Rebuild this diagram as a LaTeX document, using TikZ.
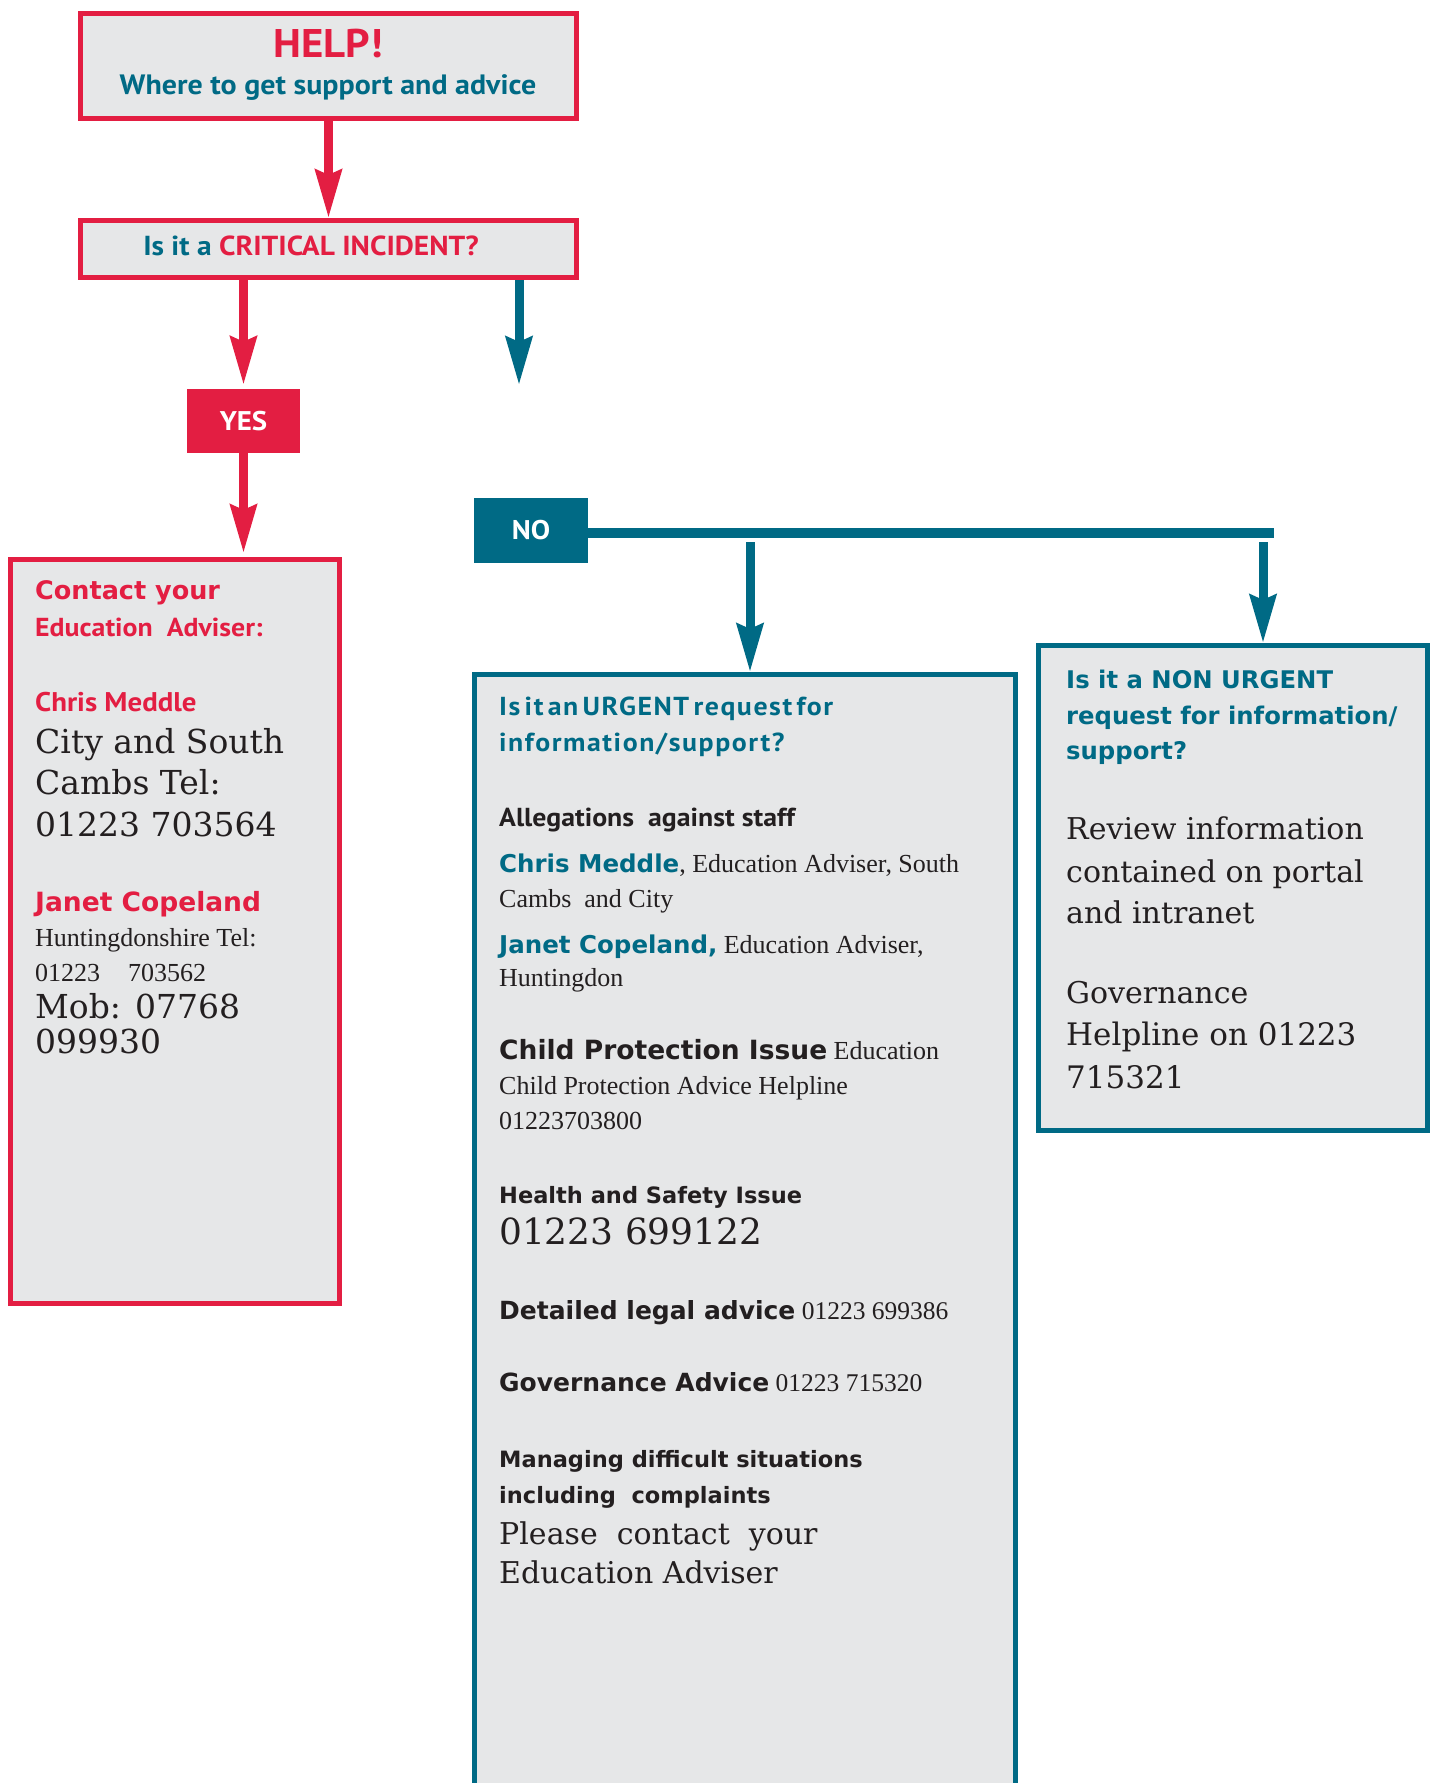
\documentclass[tikz,border=0pt]{standalone}
\usepackage{fontspec}
\setmainfont{Liberation Serif}
\newfontfamily\ptsans{PT Sans}[FakeStretch=1.07]
\newfontfamily\ptspaced{PT Sans}[FakeStretch=1.07, LetterSpace=6]
\newfontfamily\verd{DejaVu Sans}
\newfontfamily\wideserif{DejaVu Serif}
\usetikzlibrary{arrows.meta}
\definecolor{helpred}{RGB}{227,30,66}
\definecolor{helpteal}{RGB}{0,106,133}
\definecolor{boxgrey}{RGB}{230,231,232}
\definecolor{inkgrey}{RGB}{35,31,32}
\newcommand{\setsize}[1]{\fontsize{#1pt}{#1pt}\selectfont}
\begin{document}
\begin{tikzpicture}[x=1pt, y=-1pt,
% common options for the boxes:
box/.style = {rectangle, fill=boxgrey, line width=5pt, inner sep=0},
% common options for the yes/no tags:
tag/.style = {rectangle, inner sep=0, text=white, font=\ptsans\bfseries\setsize{27}},
% common options for the text lines:
line/.style = {anchor=base west, inner sep=0, text=inkgrey},
vbold/.style = {font=\verd\bfseries\setsize{#1}},
cbold/.style = {font=\ptsans\bfseries\setsize{#1}},
wserif/.style = {font=\wideserif\setsize{#1}},
tserif/.style = {font=\rmfamily\setsize{#1}},
% common options for the connectors:
redarrow/.style = {draw=helpred, line width=9pt, -{Stealth[length=48pt, width=26pt, inset=5pt]}},
tealarrow/.style = {draw=helpteal, line width=9pt, -{Stealth[length=48pt, width=26pt, inset=5pt]}}]
\useasboundingbox (0,0) rectangle (1435,1783);
\clip (0,0) rectangle (1435,1783);
% boxes
\node[box, draw=helpred, minimum width=496pt, minimum height=105pt] (help) at (328.5,66) {};
\node[box, draw=helpred, minimum width=496pt, minimum height=57pt] (crit) at (328.5,249) {};
\node[tag, fill=helpred, minimum width=113pt, minimum height=64pt] (yes) at (243.5,421) {YES};
\node[tag, fill=helpteal, minimum width=114pt, minimum height=65pt] (no) at (531,530.5) {NO};
\node[box, draw=helpred, minimum width=329pt, minimum height=744pt] (contact) at (175,931.5) {};
\node[box, draw=helpteal, minimum width=541pt, minimum height=1155pt] (urgent) at (745,1252) {};
\node[box, draw=helpteal, minimum width=389pt, minimum height=485pt] (nonurgent) at (1233,888) {};
% titles
\node[line, cbold=40, text=helpred, anchor=base] (H1) at (328,57) {HELP!};
\node[line, cbold=28, text=helpteal, anchor=base] (H2) at (328,94) {Where to get support and advice};
\node[line, cbold=27.5, text=helpteal, anchor=base] (Q1) at (311,255) {Is it a \textcolor{helpred}{CRITICAL INCIDENT?}};
% critical incident: yes
\node[line, vbold=25.5, text=helpred] (C1) at (35,599) {Contact your};
\node[line, cbold=26, text=helpred] (C2) at (35,636) {Education\ \ Adviser:};
\node[line, cbold=27, text=helpred] (C3) at (35,711) {Chris Meddle};
\node[line, wserif=33] (C4) at (35,753) {City and South};
\node[line, wserif=33] (C5) at (35,794) {Cambs Tel:};
\node[line, wserif=33] (C6) at (35,836) {01223 703564};
\node[line, vbold=26.5, text=helpred] (C7) at (35,911) {Janet Copeland};
\node[line, tserif=26] (C8) at (35,946) {Huntingdonshire Tel:};
\node[line, tserif=26] (C9) at (35,981) {01223\hspace{28pt}703562};
\node[line, wserif=33] (C10) at (35,1018) {Mob: 07768};
\node[line, wserif=33] (C11) at (35,1053) {099930};
% urgent
\node[line, font=\ptspaced\bfseries\setsize{26}, text=helpteal] (U1) at (499,715) {Is\,it\,an\,URGENT\,request\,for};
\node[line, font=\ptspaced\bfseries\setsize{26}, text=helpteal] (U2) at (499,751) {information/support?};
\node[line, cbold=26] (U3) at (499,826) {Allegations\ \ against staff};
\node[line, tserif=26] (U4) at (499,872) {{\verd\bfseries\setsize{24.5}\color{helpteal}Chris Meddle}, Education Adviser, South};
\node[line, tserif=26] (U5) at (499,907) {Cambs\ \ and City};
\node[line, tserif=26] (U6) at (499,953) {{\verd\bfseries\setsize{24.5}\color{helpteal}Janet Copeland,} Education Adviser,};
\node[line, tserif=26] (U7) at (499,986) {Huntingdon};
\node[line, tserif=26] (U8) at (499,1059) {{\verd\bfseries\setsize{26.5}Child Protection Issue} Education};
\node[line, tserif=26] (U9) at (499,1094) {Child Protection Advice Helpline};
\node[line, tserif=26] (U10) at (499,1129) {01223703800};
\node[line, vbold=22.5] (U11) at (499,1203) {Health and Safety Issue};
\node[line, wserif=36] (U12) at (499,1244) {01223 699122};
\node[line, tserif=25.5] (U13) at (499,1319) {{\verd\bfseries\setsize{25}Detailed legal advice} 01223 699386};
\node[line, tserif=25.5] (U14) at (499,1391) {{\verd\bfseries\setsize{25}Governance Advice} 01223 715320};
\node[line, vbold=22.5] (U15) at (499,1467) {Managing difficult situations};
\node[line, vbold=22.5] (U16) at (499,1503) {including\ \ complaints};
\node[line, wserif=30] (U17) at (499,1544) {Please\ \ contact\ \ your};
\node[line, wserif=30] (U18) at (499,1583) {Education Adviser};
% non urgent
\node[line, vbold=24.3, text=helpteal] (N1) at (1066,688) {Is it a NON URGENT};
\node[line, vbold=24.3, text=helpteal] (N2) at (1066,724) {request for information/};
\node[line, vbold=24.3, text=helpteal] (N3) at (1066,759) {support?};
\node[line, wserif=30] (N4) at (1066,839) {Review information};
\node[line, wserif=30] (N5) at (1066,882) {contained on portal};
\node[line, wserif=30] (N6) at (1066,923) {and intranet};
\node[line, wserif=30] (N7) at (1066,1003) {Governance};
\node[line, wserif=31] (N8) at (1066,1045) {Helpline on 01223};
\node[line, wserif=31] (N9) at (1066,1088) {715321};
% connectors
\coordinate (nofree) at (519,385);
\coordinate (bend) at (1274,533);
\coordinate (u1) at (750,542);
\coordinate (n1) at (1263,542);
\draw[redarrow] (help.south) -- (crit.north);
\draw[redarrow, shorten >=4pt] (yes.north |- crit.south) -- (yes.north);
\draw[tealarrow] (nofree |- crit.south) -- (nofree);
\draw[redarrow, shorten >=4pt] (yes.south) -- (yes.south |- contact.north);
\draw[draw=helpteal, line width=10pt] (no.east |- bend) -- (bend);
\draw[tealarrow] (u1) -- (u1 |- urgent.north);
\draw[tealarrow] (n1) -- (n1 |- nonurgent.north);
\end{tikzpicture}
\end{document}
